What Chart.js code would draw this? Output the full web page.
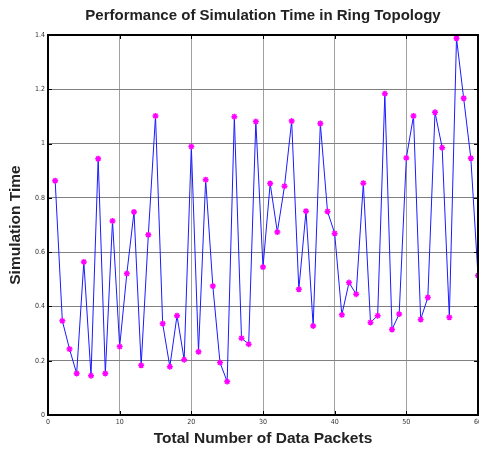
<!DOCTYPE html>
<html>
<head>
<meta charset="utf-8">
<script src="https://cdn.jsdelivr.net/npm/chart.js@4/dist/chart.umd.min.js"></script>
<style>
html,body{margin:0;padding:0;background:#fff;}
canvas{display:block;}
</style>
</head>
<body>
<canvas id="c" width="479" height="450"></canvas>
<script>
const packets = [1,2,3,4,5,6,7,8,9,10,11,12,13,14,15,16,17,18,19,20,21,22,23,24,25,26,27,28,29,30,31,32,33,34,35,36,37,38,39,40,41,42,43,44,45,46,47,48,49,50,51,52,53,54,55,56,57,58,59,60];
const simTime = [0.863,0.347,0.243,0.153,0.564,0.145,0.944,0.153,0.715,0.252,
                 0.521,0.748,0.183,0.664,1.102,0.337,0.178,0.366,0.204,0.989,
                 0.233,0.867,0.475,0.193,0.123,1.099,0.283,0.261,1.081,0.545,
                 0.853,0.674,0.843,1.083,0.463,0.751,0.328,1.074,0.750,0.669,
                 0.369,0.488,0.445,0.854,0.341,0.366,1.184,0.315,0.372,0.947,
                 1.102,0.352,0.433,1.115,0.985,0.360,1.388,1.167,0.946,0.514];
const xTicks = [0,10,20,30,40,50,60];
const yTicks = [0,0.2,0.4,0.6,0.8,1,1.2,1.4];

const points = packets.map((p,i)=>({x:p, y:simTime[i]}));

const frame = {
  id:'frame',
  afterDraw(chart){
    const {ctx, chartArea:a, scales} = chart;
    ctx.save();
    ctx.strokeStyle='#000';
    ctx.lineWidth=1;
    ctx.beginPath();
    xTicks.forEach(v=>{const px=Math.round(scales.x.getPixelForValue(v))+0.5;
      ctx.moveTo(px,a.top); ctx.lineTo(px,a.top+4);
      ctx.moveTo(px,a.bottom); ctx.lineTo(px,a.bottom-4);});
    yTicks.forEach(v=>{const py=Math.round(scales.y.getPixelForValue(v))+0.5;
      ctx.moveTo(a.left,py); ctx.lineTo(a.left+4,py);
      ctx.moveTo(a.right,py); ctx.lineTo(a.right-4,py);});
    ctx.stroke();
    ctx.lineWidth=2;
    ctx.strokeRect(a.left,a.top,a.right-a.left,a.bottom-a.top);
    ctx.restore();
  }
};

new Chart(document.getElementById('c'), {
  type:'line',
  data:{datasets:[{
    data:points,
    borderColor:'#1a1aff',
    borderWidth:1,
    pointStyle:'star',
    pointRadius:3,
    pointBorderColor:'#ff00ff',
    pointBackgroundColor:'#ff00ff',
    pointBorderWidth:1.5,
    tension:0,
    clip:{left:0,right:0,top:2,bottom:0}
  }]},
  options:{
    responsive:false,
    animation:false,
    layout:{autoPadding:false, padding:{left:0,right:1,top:0,bottom:0}},
    plugins:{
      legend:{display:false},
      tooltip:{enabled:false},
      title:{display:true, fullSize:false,
        text:'Performance of Simulation Time in Ring Topology',
        color:'#222',
        font:{family:'Liberation Sans, Arial, sans-serif', size:15, weight:'bold'},
        padding:{top:7,bottom:10}}
    },
    scales:{
      x:{type:'linear', min:0, max:60,
        afterBuildTicks(s){s.ticks=xTicks.map(v=>({value:v}));},
        afterFit(s){s.height=35; s.paddingLeft=0; s.paddingRight=0;},
        grid:{color:'#a0a0a0', lineWidth:1, drawTicks:false},
        border:{display:false},
        ticks:{padding:3, maxRotation:0, color:'#333',
          font:{family:'Liberation Sans Narrow, DejaVu Sans Condensed, sans-serif', size:7}},
        title:{display:true, text:'Total Number of Data Packets', color:'#222',
          font:{family:'Liberation Sans, Arial, sans-serif', size:15.5, weight:'bold'},
          padding:{top:0,bottom:2}}
      },
      y:{type:'linear', min:0, max:1.4,
        afterBuildTicks(s){s.ticks=yTicks.map(v=>({value:v}));},
        afterFit(s){s.width=48; s.paddingTop=0; s.paddingBottom=0;},
        grid:{color:'#808080', lineWidth:1, drawTicks:false},
        border:{display:false},
        ticks:{padding:3, color:'#333', callback:v=>String(+v.toFixed(1)),
          font:{family:'Liberation Sans Narrow, DejaVu Sans Condensed, sans-serif', size:7}},
        title:{display:true, text:'Simulation Time', color:'#222',
          font:{family:'Liberation Sans, Arial, sans-serif', size:15.5, weight:'bold'},
          padding:{top:6,bottom:0}}
      }
    }
  },
  plugins:[frame]
});
</script>
</body>
</html>
